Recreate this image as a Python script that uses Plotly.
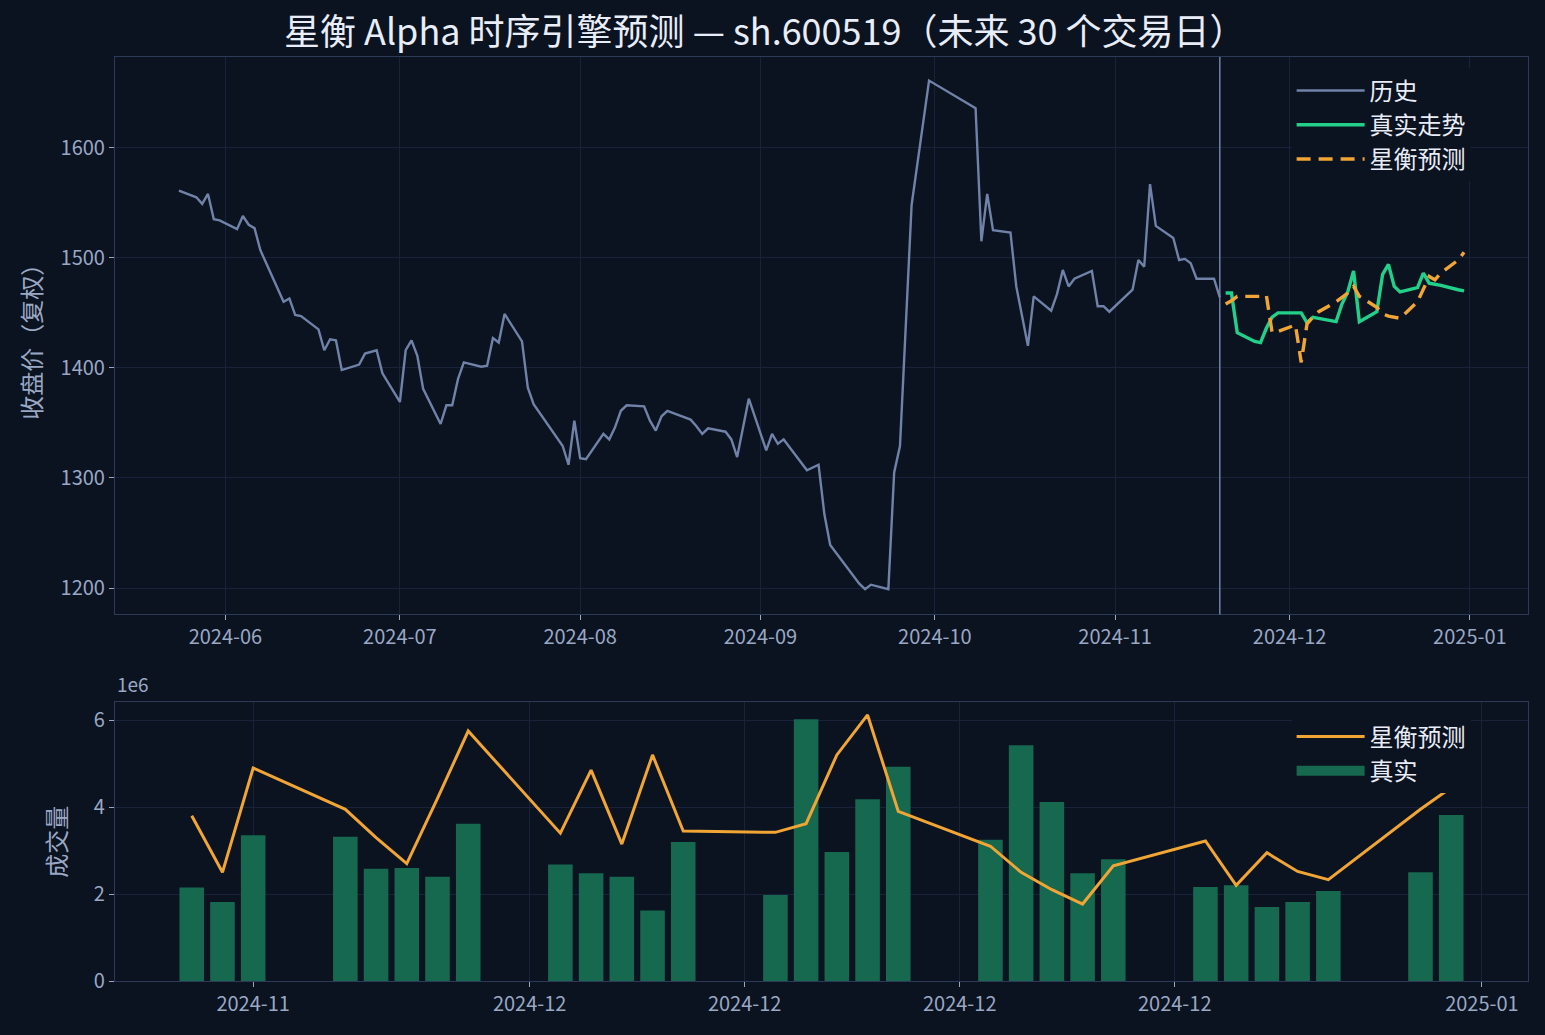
import plotly.graph_objects as go

hist_dates = [
    "2024-05-24", "2024-05-27", "2024-05-28", "2024-05-29", "2024-05-30", "2024-05-31",
    "2024-06-03", "2024-06-04", "2024-06-05", "2024-06-06", "2024-06-07", "2024-06-11",
    "2024-06-12", "2024-06-13", "2024-06-14", "2024-06-17", "2024-06-18", "2024-06-19",
    "2024-06-20", "2024-06-21", "2024-06-24", "2024-06-25", "2024-06-27", "2024-06-28",
    "2024-07-01", "2024-07-02", "2024-07-03", "2024-07-04", "2024-07-05", "2024-07-08",
    "2024-07-09", "2024-07-10", "2024-07-11", "2024-07-12", "2024-07-15", "2024-07-16",
    "2024-07-17", "2024-07-18", "2024-07-19", "2024-07-22", "2024-07-23", "2024-07-24",
    "2024-07-29", "2024-07-30", "2024-07-31", "2024-08-01", "2024-08-02", "2024-08-05",
    "2024-08-06", "2024-08-07", "2024-08-08", "2024-08-09", "2024-08-12", "2024-08-13",
    "2024-08-14", "2024-08-15", "2024-08-16", "2024-08-20", "2024-08-21", "2024-08-22",
    "2024-08-23", "2024-08-26", "2024-08-27", "2024-08-28", "2024-08-30", "2024-09-02",
    "2024-09-03", "2024-09-04", "2024-09-05", "2024-09-09", "2024-09-11", "2024-09-12",
    "2024-09-13", "2024-09-18", "2024-09-19", "2024-09-20", "2024-09-23", "2024-09-24",
    "2024-09-25", "2024-09-27", "2024-09-30", "2024-10-08", "2024-10-09", "2024-10-10",
    "2024-10-11", "2024-10-14", "2024-10-15", "2024-10-17", "2024-10-18", "2024-10-21",
    "2024-10-22", "2024-10-23", "2024-10-24", "2024-10-25", "2024-10-28", "2024-10-29",
    "2024-10-30", "2024-10-31", "2024-11-04", "2024-11-05", "2024-11-06", "2024-11-07",
    "2024-11-08", "2024-11-11", "2024-11-12", "2024-11-13", "2024-11-14", "2024-11-15",
    "2024-11-18", "2024-11-19",
]
hist_close = [
    1561, 1555, 1549, 1558, 1535, 1534,
    1526, 1538, 1530, 1527, 1507, 1460,
    1463, 1448, 1447, 1435, 1416, 1426,
    1425, 1398, 1403, 1413, 1416, 1395,
    1369, 1416, 1425, 1411, 1381, 1349,
    1366, 1366, 1390, 1405, 1401, 1402,
    1427, 1423, 1449, 1424, 1382, 1367,
    1329, 1312, 1352, 1318, 1317, 1340,
    1335, 1346, 1361, 1366, 1365, 1352,
    1343, 1356, 1361, 1353, 1347, 1340,
    1345, 1342, 1335, 1319, 1372, 1325,
    1340, 1331, 1335, 1307, 1312, 1267,
    1239, 1204, 1199, 1203, 1199, 1305,
    1329, 1548, 1661, 1636, 1515, 1558,
    1525, 1523, 1474, 1420, 1465, 1452,
    1467, 1489, 1474, 1481, 1488, 1456,
    1456, 1451, 1471, 1498, 1492, 1567,
    1529, 1518, 1498, 1499, 1495, 1481,
    1481, 1464,
]

fut_dates = [
    "2024-11-20", "2024-11-21", "2024-11-22", "2024-11-25", "2024-11-26", "2024-11-27",
    "2024-11-28", "2024-11-29", "2024-12-02", "2024-12-03", "2024-12-04", "2024-12-05",
    "2024-12-06", "2024-12-09", "2024-12-10", "2024-12-11", "2024-12-12", "2024-12-13",
    "2024-12-16", "2024-12-17", "2024-12-18", "2024-12-19", "2024-12-20", "2024-12-23",
    "2024-12-24", "2024-12-25", "2024-12-26", "2024-12-27", "2024-12-30", "2024-12-31",
]
true_close = [
    1468, 1468, 1432, 1424, 1423, 1436, 1446, 1450, 1450, 1450,
    1441, 1446, 1445, 1442, 1458, 1469, 1488, 1442, 1451, 1485,
    1494, 1474, 1469, 1473, 1486, 1477, 1476, 1475, 1471, 1470,
]
pred_close = [
    1458, 1461, 1465, 1465, 1465, 1466, 1432, 1433, 1439, 1405,
    1440, 1446, 1451, 1460, 1464, 1468, 1474, 1465, 1455, 1449,
    1447, 1446, 1445, 1460, 1471, 1483, 1480, 1486, 1498, 1505,
]
true_vol = [
    2.15, 1.82, 3.35, 3.32, 2.58, 2.60, 2.40, 3.62, 2.68, 2.48,
    2.40, 1.62, 3.20, 1.98, 6.02, 2.97, 4.18, 4.93, 3.25, 5.42,
    4.12, 2.48, 2.80, 2.16, 2.20, 1.70, 1.82, 2.07, 2.50, 3.82,
]
pred_vol = [
    3.80, 2.50, 4.90, 3.95, 3.30, 2.70, 4.20, 5.75, 3.40, 4.85,
    3.15, 5.20, 3.45, 3.42, 3.62, 5.20, 6.12, 3.90, 3.10, 2.50,
    2.10, 1.77, 2.65, 3.22, 2.20, 2.95, 2.52, 2.33, 3.95, 4.45,
]
vol_tickvals = ["2024-11-22", "2024-12-01", "2024-12-08", "2024-12-15", "2024-12-22", "2025-01-01"]
vol_ticktext = ["2024-11", "2024-12", "2024-12", "2024-12", "2024-12", "2025-01"]

BG = "#0b1220"
GRID = "#18223a"
EDGE = "#2c3a58"
TICK = "#9aa8c4"
GREEN_BAR = "#16694f"
ORANGE = "#f0a535"
FONT = "Noto Sans CJK SC"

fig = go.Figure()
fig.add_trace(go.Scatter(x=hist_dates, y=hist_close, mode="lines", name="历史",
                         line=dict(color="#7082a8", width=2.4), xaxis="x", yaxis="y", legend="legend"))
fig.add_trace(go.Scatter(x=fut_dates, y=true_close, mode="lines", name="真实走势",
                         line=dict(color="#22d08a", width=3.4), xaxis="x", yaxis="y", legend="legend"))
fig.add_trace(go.Scatter(x=fut_dates, y=pred_close, mode="lines", name="星衡预测",
                         line=dict(color=ORANGE, width=3.4, dash="14px,8px"), xaxis="x", yaxis="y", legend="legend"))

fig.add_trace(go.Bar(x=fut_dates, y=[v * 1e6 for v in true_vol], name="真实", showlegend=False,
                     marker=dict(color=GREEN_BAR, line_width=0), width=0.8 * 86400000,
                     xaxis="x2", yaxis="y2"))
fig.add_trace(go.Scatter(x=fut_dates, y=[v * 1e6 for v in pred_vol], mode="lines", name="星衡预测",
                         line=dict(color=ORANGE, width=3), xaxis="x2", yaxis="y2", legend="legend2"))
# legend swatch for the bars (matplotlib-style wide patch)
fig.add_trace(go.Scatter(x=[None], y=[None], mode="lines", name="真实",
                         line=dict(color=GREEN_BAR, width=17), xaxis="x2", yaxis="y2", legend="legend2"))

axis_common = dict(showgrid=True, gridcolor=GRID, gridwidth=1, showline=True, linecolor=EDGE,
                   mirror=True, ticks="outside", tickcolor=TICK, ticklen=5,
                   tickfont=dict(color=TICK, size=20, family=FONT), zeroline=False)

fig.update_layout(
    width=1545, height=1035,
    paper_bgcolor=BG, plot_bgcolor=BG,
    margin=dict(l=0, r=0, t=0, b=0),
    font=dict(family=FONT, color=TICK),
    title=dict(text="星衡 Alpha 时序引擎预测 — sh.600519（未来 30 个交易日）", x=0.495, y=0.969,
               xanchor="center", yanchor="middle", font=dict(size=36, color="#e8edf7", family=FONT)),
    xaxis=dict(axis_common, domain=[0.0744, 0.989], anchor="y", type="date",
               range=["2024-05-13", "2025-01-11"], dtick="M1", tickformat="%Y-%m"),
    yaxis=dict(axis_common, domain=[0.3988, 0.9443], anchor="x", range=[1176, 1682.5],
               tickvals=[1200, 1300, 1400, 1500, 1600],
               title=dict(text="收盘价（复权）", font=dict(size=24, color=TICK), standoff=12)),
    xaxis2=dict(axis_common, domain=[0.0744, 0.989], anchor="y2", type="date",
                range=["2024-11-17 12:00", "2025-01-02 12:00"],
                tickvals=vol_tickvals, ticktext=vol_ticktext),
    yaxis2=dict(axis_common, domain=[0.0401, 0.3128], anchor="x2", range=[0, 6.41e6],
                tickvals=[0, 2e6, 4e6, 6e6], ticktext=["0", "2", "4", "6"],
                title=dict(text="成交量", font=dict(size=24, color=TICK), standoff=20)),
    legend=dict(x=0.836, y=0.933, xanchor="left", yanchor="top", bgcolor=BG,
                font=dict(size=24, color="#e8edf7", family=FONT), itemwidth=68,
                tracegroupgap=8),
    legend2=dict(x=0.836, y=0.301, xanchor="left", yanchor="top", bgcolor=BG,
                 font=dict(size=24, color="#e8edf7", family=FONT), itemwidth=68),
    bargap=0.2,
    shapes=[dict(type="line", xref="x", yref="paper", x0="2024-11-19", x1="2024-11-19",
                 y0=0.3988, y1=0.9443, line=dict(color="#7082a8", width=1.5))],
    annotations=[dict(text="1e6", xref="paper", yref="paper", x=0.0744, y=0.3165,
                      xanchor="left", yanchor="bottom", showarrow=False,
                      font=dict(size=19, color=TICK, family=FONT))],
)

fig.write_html("out.html", config={"displayModeBar": False},
               post_script="document.body.style.margin='0';document.body.style.background='#0b1220';")
